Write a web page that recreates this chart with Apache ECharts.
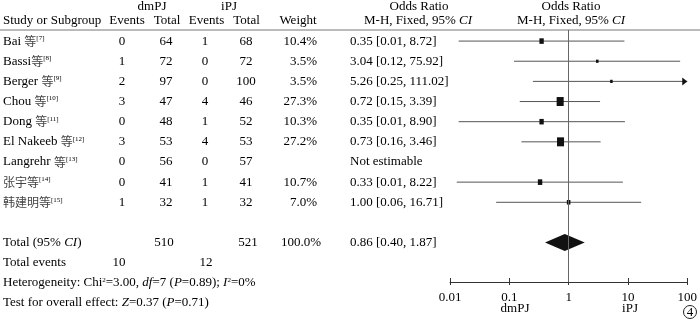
<!DOCTYPE html>
<html><head><meta charset="utf-8">
<script src="https://cdn.jsdelivr.net/npm/echarts@6/dist/echarts.min.js"></script>
<style>html,body{margin:0;padding:0;background:#fff}#c{width:700px;height:322px}</style>
</head><body><div id="c"></div>
<script>
// ---------------- data ----------------
const studies = ['Bai 等', 'Bassi等', 'Berger 等', 'Chou 等', 'Dong 等', 'El Nakeeb 等', 'Langrehr 等', '张宇等', '韩建明等'];
const refs = [7, 8, 9, 10, 11, 12, 13, 14, 15];
const dmEvents = [0, 1, 2, 3, 0, 3, 0, 0, 1];
const dmTotal = [64, 72, 97, 47, 48, 53, 56, 41, 32];
const iEvents = [1, 0, 0, 4, 1, 4, 0, 1, 1];
const iTotal = [68, 72, 100, 46, 52, 53, 57, 41, 32];
const weights = [10.4, 3.5, 3.5, 27.3, 10.3, 27.2, null, 10.7, 7.0];
const orValue = [0.35, 3.04, 5.26, 0.72, 0.35, 0.73, null, 0.33, 1.00];
const ciLower = [0.014, 0.12, 0.25, 0.15, 0.014, 0.16, null, 0.013, 0.06];
const ciUpper = [8.72, 75.92, 111.02, 3.39, 8.90, 3.46, null, 8.22, 16.71];
const totalN = [510, 521];
const totalEvents = [10, 12];
const totalWeight = 100.0;
const totalOR = [0.86, 0.40, 1.87];
const heterogeneity = {chi2: 3.00, df: 7, p: 0.89, i2: 0};
const overallEffect = {z: 0.37, p: 0.71};
const axisTicks = [0.01, 0.1, 1, 10, 100];
const groupNames = ['dmPJ', 'iPJ'];

// ---------------- layout ----------------
const FONT = '"Liberation Serif","Times New Roman",serif';
const FS = 13;
const TXT = '#000';
const ROW_TOTAL = 10, ROW_EVENTS = 11, ROW_HET = 12, ROW_TEST = 13;
const COL = {study: 3, dmEv: 122, dmTot: 166, iEv: 205, iTot: 246, weight: 317, or: 350};
const rich = {
  s: {fontSize: 7, fontFamily: FONT, verticalAlign: 'top', fill: TXT, color: TXT},
  i: {fontSize: FS, fontFamily: FONT, fontStyle: 'italic', fill: TXT, color: TXT},
  c: {fontSize: 12, fontFamily: '"Noto Sans CJK SC"', fill: '#444', color: '#444'}
};
function cjk(s) { return s.replace(/([\u4e00-\u9fff]+)/g, '{c|$1}'); }
function fmtCI(o, l, u) { return o.toFixed(2) + ' [' + l.toFixed(2) + ', ' + u.toFixed(2) + ']'; }

const tableRows = [];
studies.forEach((name, i) => {
  tableRows.push({row: i, cells: [
    {x: COL.study, align: 'left', text: cjk(name) + '{s|[' + refs[i] + ']}'},
    {x: COL.dmEv, align: 'center', text: String(dmEvents[i])},
    {x: COL.dmTot, align: 'center', text: String(dmTotal[i])},
    {x: COL.iEv, align: 'center', text: String(iEvents[i])},
    {x: COL.iTot, align: 'center', text: String(iTotal[i])},
    {x: COL.weight, align: 'right', text: weights[i] == null ? '' : weights[i].toFixed(1) + '%'},
    {x: COL.or, align: 'left', text: orValue[i] == null ? 'Not estimable' : fmtCI(orValue[i], ciLower[i], ciUpper[i])}
  ]});
});
tableRows.push({row: ROW_TOTAL, cells: [
  {x: COL.study, align: 'left', text: 'Total (95% {i|CI})'},
  {x: COL.dmTot - 2, align: 'center', text: String(totalN[0])},
  {x: COL.iTot + 2, align: 'center', text: String(totalN[1])},
  {x: COL.weight + 4, align: 'right', text: totalWeight.toFixed(1) + '%'},
  {x: COL.or, align: 'left', text: fmtCI(totalOR[0], totalOR[1], totalOR[2])}
]});
tableRows.push({row: ROW_EVENTS, cells: [
  {x: COL.study, align: 'left', text: 'Total events'},
  {x: COL.dmEv - 3, align: 'center', text: String(totalEvents[0])},
  {x: COL.iEv + 1, align: 'center', text: String(totalEvents[1])}
]});
tableRows.push({row: ROW_HET, cells: [
  {x: COL.study, align: 'left', text: 'Heterogeneity: Chi{s|2}=' + heterogeneity.chi2.toFixed(2) + ', {i|df}=' + heterogeneity.df +
    ' ({i|P}=' + heterogeneity.p.toFixed(2) + '); {i|I}{s|2}=' + heterogeneity.i2 + '%'}
]});
tableRows.push({row: ROW_TEST, cells: [
  {x: COL.study, align: 'left', text: 'Test for overall effect: {i|Z}=' + overallEffect.z.toFixed(2) + ' ({i|P}=' + overallEffect.p.toFixed(2) + ')'}
]});

const forestData = [];
orValue.forEach((v, i) => { if (v != null) forestData.push([v, ciLower[i], ciUpper[i], weights[i], i]); });
const AXMAX = axisTicks[axisTicks.length - 1], AXMIN = axisTicks[0];

function hdr(x, y, text, align) {
  return {type: 'text', x: x, y: y, style: {text: text, rich: rich, font: FS + 'px ' + FONT, fill: TXT, align: align || 'center', verticalAlign: 'middle'}};
}

const chart = echarts.init(document.getElementById('c'), null, {renderer: 'canvas'});
chart.setOption({
  animation: false,
  grid: [
    {left: 450, right: 10, top: 30, bottom: 40},
    {left: 0, right: 0, top: 30, bottom: 0}
  ],
  xAxis: [
    {type: 'log', gridIndex: 0, min: AXMIN, max: AXMAX, logBase: 10, position: 'bottom',
      axisLine: {onZero: false, lineStyle: {color: '#333', width: 1}},
      axisTick: {length: 3, lineStyle: {color: '#333'}},
      axisLabel: {margin: 9, color: TXT, fontFamily: FONT, fontSize: FS, formatter: v => String(+(+v).toPrecision(2))},
      splitLine: {show: false}},
    {type: 'log', gridIndex: 0, min: AXMIN, max: AXMAX, logBase: 10, position: 'bottom',
      axisLine: {show: false, onZero: false},
      axisTick: {inside: true, length: 4, lineStyle: {color: '#333'}},
      axisLabel: {show: false}, splitLine: {show: false}},
    {type: 'value', gridIndex: 1, min: 0, max: 700, show: false}
  ],
  yAxis: [
    {type: 'value', gridIndex: 0, inverse: true, min: -0.55, max: 11.956, show: false},
    {type: 'value', gridIndex: 1, inverse: true, min: -0.55, max: 13.94, show: false}
  ],
  series: [
    {type: 'line', xAxisIndex: 0, yAxisIndex: 0, data: [], silent: true,
      markLine: {silent: true, symbol: 'none', label: {show: false},
        lineStyle: {color: '#666', width: 1, type: 'solid'}, data: [{xAxis: 1}]}},
    {type: 'custom', xAxisIndex: 0, yAxisIndex: 0, data: forestData, clip: false,
      renderItem: function (params, api) {
        const o = api.value(0), lo = api.value(1), hi = api.value(2), w = api.value(3), r = api.value(4);
        const y = api.coord([1, r])[1];
        const xl = api.coord([Math.max(lo, AXMIN), r])[0];
        const xh = api.coord([Math.min(hi, AXMAX), r])[0];
        const xc = api.coord([o, r])[0];
        const bw = 1.35 * Math.sqrt(w), bh = 1.72 * Math.sqrt(w);
        const ch = [
          {type: 'line', shape: {x1: xl, y1: y, x2: xh, y2: y}, style: {stroke: '#555', lineWidth: 1}},
          {type: 'rect', shape: {x: xc - bw / 2, y: y - bh / 2, width: bw, height: bh}, style: {fill: '#111'}}
        ];
        if (hi > AXMAX) {
          ch.push({type: 'polygon', shape: {points: [[xh, y], [xh - 5, y - 4], [xh - 5, y + 4]]}, style: {fill: '#111'}});
        }
        return {type: 'group', children: ch};
      }},
    {type: 'custom', xAxisIndex: 0, yAxisIndex: 0, data: [[totalOR[0], totalOR[1], totalOR[2], ROW_TOTAL]], clip: false,
      renderItem: function (params, api) {
        const r = api.value(3);
        const c = api.coord([api.value(0), r]);
        const xl = api.coord([api.value(1), r])[0], xh = api.coord([api.value(2), r])[0];
        return {type: 'polygon', shape: {points: [[xl, c[1]], [c[0], c[1] - 8.5], [xh, c[1]], [c[0], c[1] + 8.5]]}, style: {fill: '#111'}};
      }},
    {type: 'custom', xAxisIndex: 2, yAxisIndex: 1, data: tableRows.map(t => [0, t.row]), clip: false, silent: true,
      renderItem: function (params, api) {
        const t = tableRows[params.dataIndex];
        return {type: 'group', children: t.cells.map(cell => {
          const p = api.coord([cell.x, t.row]);
          return {type: 'text', x: p[0], y: p[1], style: {text: cell.text, rich: rich, font: FS + 'px ' + FONT, fill: TXT, align: cell.align, verticalAlign: 'middle'}};
        })};
      }}
  ],
  graphic: [
    {type: 'line', shape: {x1: 0, y1: 30, x2: 700, y2: 30}, style: {stroke: '#777', lineWidth: 1}},
    hdr(152, 7, groupNames[0]), hdr(229, 7, groupNames[1]),
    hdr(3, 20.5, 'Study or Subgroup', 'left'),
    hdr(127, 20.5, 'Events'), hdr(167, 20.5, 'Total'), hdr(206.5, 20.5, 'Events'), hdr(246.5, 20.5, 'Total'), hdr(298, 20.5, 'Weight'),
    hdr(419, 6.5, 'Odds Ratio'), hdr(418, 20.5, 'M-H, Fixed, 95% {i|CI}'),
    hdr(571, 6.5, 'Odds Ratio'), hdr(571, 20.5, 'M-H, Fixed, 95% {i|CI}'),
    hdr(515, 309, groupNames[0]), hdr(630, 309, groupNames[1]),
    {type: 'circle', shape: {cx: 690, cy: 312, r: 6.5}, style: {fill: 'none', stroke: '#222', lineWidth: 1}},
    hdr(690, 312.5, '4')
  ]
});
</script></body></html>
